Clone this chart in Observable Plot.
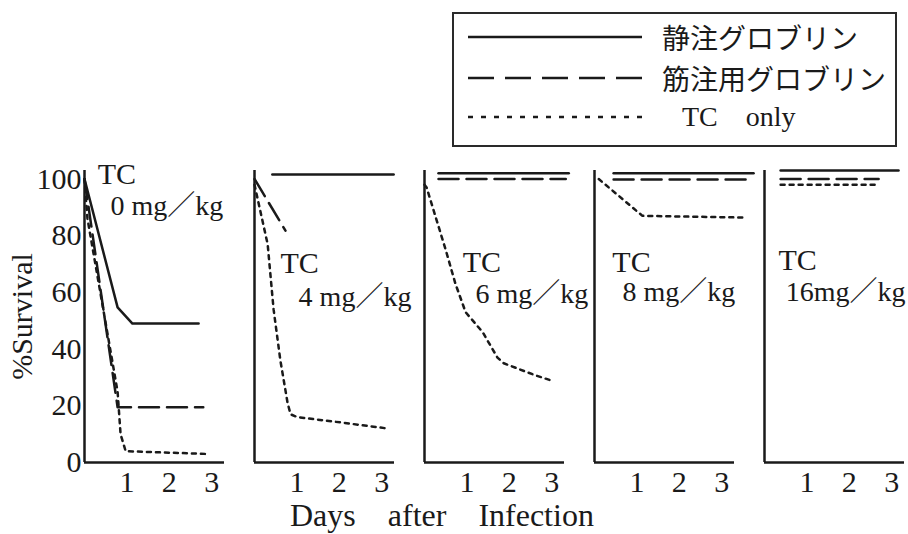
<!DOCTYPE html>
<html><head><meta charset="utf-8">
<script src="https://cdn.jsdelivr.net/npm/d3@7"></script>
<script src="https://cdn.jsdelivr.net/npm/@observablehq/plot@0.6"></script>
<style>
html,body{margin:0;padding:0;background:#fff;}
#wrap{position:relative;width:908px;height:534px;overflow:hidden;font-family:"Liberation Serif","Noto Sans CJK JP",serif;color:#1a1a1a;}
#chart{position:absolute;left:0;top:150px;}
#legend{position:absolute;left:452px;top:12px;width:441px;height:131px;border:2px solid #2a2a2a;box-sizing:content-box;}
#legend svg{position:absolute;left:0;top:0;}
.lt{position:absolute;font-size:28px;line-height:28px;white-space:pre;}
.jp{font-family:"Noto Sans CJK JP",sans-serif;}
#xlabel{position:absolute;left:290px;top:503px;font-size:32px;line-height:24px;word-spacing:24px;white-space:pre;}
</style></head><body>
<div id="wrap">
  <div id="chart"></div>
  <div id="legend"></div>
  <div id="xlabel">Days after Infection</div>
</div>
<script>
// ---- data ----
const doses = ["0", "4", "6", "8", "16"];
const doseLabels = ["0 mg／kg", "4 mg／kg", "6 mg／kg", "8 mg／kg", "16mg／kg"];
const seriesNames = ["静注グロブリン", "筋注用グロブリン", "TC    only"];
const dayTicks = [1, 2, 3];
const pctTicks = [0, 20, 40, 60, 80, 100];

// 静注グロブリン (solid)
const ivDays = [[0, 0.78, 1.13, 2.69], [0.42, 3.28], [0.33, 3.4], [0.45, 3.75], [0.38, 3.16]];
const ivPct  = [[100, 54.7, 49, 49], [101.6, 101.6], [102, 102], [102, 102], [103, 103]];
// 筋注用グロブリン (dashed)
const imDays = [[0, 0.78, 2.8], [0, 0.73], [0.33, 3.33], [0.45, 3.63], [0.38, 2.69]];
const imPct  = [[100, 19.5, 19.5], [100, 81.8], [100, 100], [99.8, 99.8], [100, 100]];
// TC only (dotted)
const tcDays = [
  [0, 0.07, 0.78, 0.85, 0.97, 2.92],
  [0, 0.31, 0.45, 0.61, 0.78, 0.85, 1.01, 2.1, 3.13],
  [0, 0.05, 0.5, 0.73, 0.97, 1.37, 1.72, 1.87, 2.57, 2.97],
  [0.1, 1.13, 3.56],
  [0.38, 2.69]
];
const tcPct = [
  [100, 86, 25, 10, 4, 3],
  [98, 77, 54, 36, 21, 17, 16, 14, 12],
  [98, 97, 75, 63, 53, 46, 37, 35, 31, 29],
  [100, 87, 86.4],
  [98, 98]
];
// panel annotation anchors (day, %)
const tcLabelDay = [0.31, 0.61, 0.9, 0.42, 0.33];
const tcLabelPct = [101.6, 70.2, 70.5, 70.5, 71.2];
const doseLabelDay = [0.61, 1.04, 1.2, 0.66, 0.5];
const doseLabelPct = [90.6, 58.2, 59.6, 60, 60];

// ---- build tables ----
function rowsOf(daysArr, pctArr) {
  const out = [];
  doses.forEach((d, i) => daysArr[i].forEach((x, j) => out.push({dose: d, day: x, pct: pctArr[i][j]})));
  return out;
}
const ivRows = rowsOf(ivDays, ivPct);
const imRows = rowsOf(imDays, imPct);
const tcRows = rowsOf(tcDays, tcPct);
const tcLabels = doses.map((d, i) => ({dose: d, day: tcLabelDay[i], pct: tcLabelPct[i], text: "TC"}));
const doseLbls = doses.map((d, i) => ({dose: d, day: doseLabelDay[i], pct: doseLabelPct[i], text: doseLabels[i]}));

const ink = "#1a1a1a";
const dashIM = "20,8";
const dashTC = "4,5";

const chart = Plot.plot({
  width: 908, height: 350,
  marginTop: 20, marginBottom: 38, marginLeft: 84, marginRight: 4,
  style: {fontFamily: '"Liberation Serif","Noto Sans CJK JP",serif', fontSize: "30px", color: ink, background: "transparent", overflow: "visible"},
  fx: {domain: doses, axis: null, paddingInner: 0.1765, paddingOuter: 0},
  x: {domain: [0, 3.3]},
  y: {domain: [0, 103]},
  marks: [
    Plot.ruleX([0], {stroke: ink, strokeWidth: 2.5}),
    Plot.ruleY([0], {stroke: ink, strokeWidth: 2.5}),
    Plot.axisX({ticks: dayTicks, tickFormat: d => String(d), tickSize: 0, tickPadding: 8, label: null, fontSize: 30}),
    Plot.axisY({ticks: pctTicks, tickFormat: d => String(d), tickSize: 0, tickPadding: 3, label: "%Survival", labelAnchor: "center", labelOffset: 74, labelArrow: "none", fontSize: 30}),
    Plot.line(ivRows, {x: "day", y: "pct", fx: "dose", stroke: ink, strokeWidth: 2.5}),
    Plot.line(imRows, {x: "day", y: "pct", fx: "dose", stroke: ink, strokeWidth: 2.5, strokeDasharray: dashIM}),
    Plot.line(tcRows, {x: "day", y: "pct", fx: "dose", stroke: ink, strokeWidth: 2.5, strokeDasharray: dashTC}),
    Plot.text(tcLabels, {x: "day", y: "pct", fx: "dose", text: "text", textAnchor: "start", fontSize: 30, fill: ink}),
    Plot.text(doseLbls, {x: "day", y: "pct", fx: "dose", text: "text", textAnchor: "start", fontSize: 28, fill: ink})
  ]
});
document.getElementById("chart").appendChild(chart);

// ---- legend ----
const legend = document.getElementById("legend");
const rowsY = [23, 64, 103];
const dashes = [null, "26,11", "5,8"];
const textLeft = [208, 208, 228];
let svg = '<svg width="441" height="131" xmlns="http://www.w3.org/2000/svg">';
rowsY.forEach((y, i) => {
  svg += `<line x1="14" x2="188" y1="${y}" y2="${y}" stroke="${ink}" stroke-width="2.5"${dashes[i] ? ` stroke-dasharray="${dashes[i]}"` : ""}/>`;
});
svg += '</svg>';
let html = svg;
seriesNames.forEach((s, i) => {
  html += `<div class="lt${i < 2 ? " jp" : ""}" style="left:${textLeft[i]}px;top:${rowsY[i] - 14}px">${s}</div>`;
});
legend.innerHTML = html;
</script>
</body></html>
